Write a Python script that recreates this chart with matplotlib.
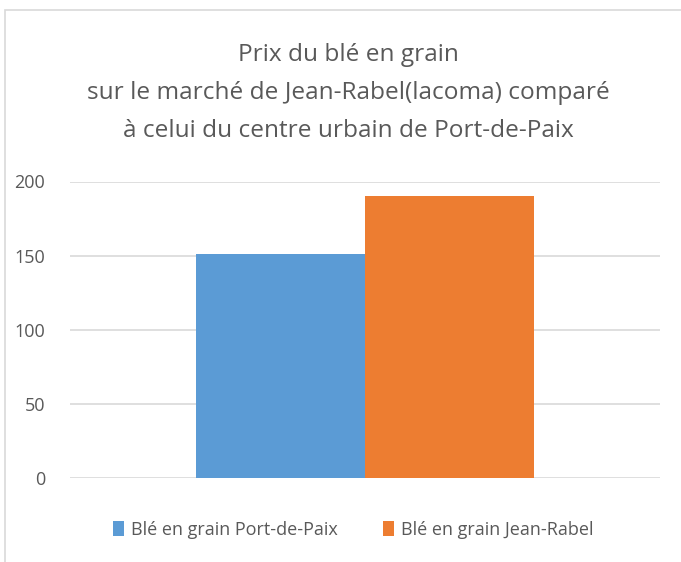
import matplotlib
matplotlib.use("Agg")
import matplotlib.pyplot as plt
from matplotlib.patches import Rectangle

categories = [""]
series_names = ["Blé en grain Port-de-Paix", "Blé en grain Jean-Rabel"]
series_values = [[151], [190]]
colors = ["#5B9BD5", "#ED7D31"]
yticks = [0, 50, 100, 150, 200]
title = "Prix du blé en grain\nsur le marché de Jean-Rabel(lacoma) comparé\nà celui du centre urbain de Port-de-Paix"

plt.rcParams['font.family'] = ['Open Sans', 'DejaVu Sans']

W, H = 681, 562
fig = plt.figure(figsize=(W / 100, H / 100), dpi=100)
fig.patch.set_facecolor("white")

# chart border
fig.patches.append(Rectangle((5 / W, -0.1), 1.2, 1 - 10 / H + 0.1, transform=fig.transFigure,
                             fill=False, edgecolor="#D9D9D9", linewidth=1.2))

ax = fig.add_axes([70 / W, 1 - 478 / H, (660 - 70) / W, (478 - 181.5) / H])
bw = 0.286
for i, (name, vals) in enumerate(zip(series_names, series_values)):
    ax.bar([j + (i - 0.5) * bw for j in range(len(categories))], vals, width=bw,
           color=colors[i], label=name, zorder=3)
ax.set_xlim(-0.5, 0.5)
ax.set_ylim(0, 200)
ax.set_yticks(yticks)
ax.set_xticks([])
ax.yaxis.grid(True, color="#D9D9D9", linewidth=1.2, zorder=0)
for s in ax.spines.values():
    s.set_visible(False)
ax.tick_params(axis='y', length=0, pad=18, labelsize=13, labelcolor="#595959")

fig.text(348 / W, 1 - 93 / H, title, ha="center", va="center", fontsize=17.6,
         color="#595959", linespacing=1.8)

handles, labels = ax.get_legend_handles_labels()
leg = fig.legend(handles, labels, loc="center", bbox_to_anchor=(353 / W, 1 - 530 / H),
                 ncol=2, frameon=False, fontsize=13, handlelength=0.6, handleheight=0.9,
                 handletextpad=0.4, columnspacing=2.5)
for t in leg.get_texts():
    t.set_color("#595959")

fig.savefig("out.png", dpi=100, facecolor="white")
